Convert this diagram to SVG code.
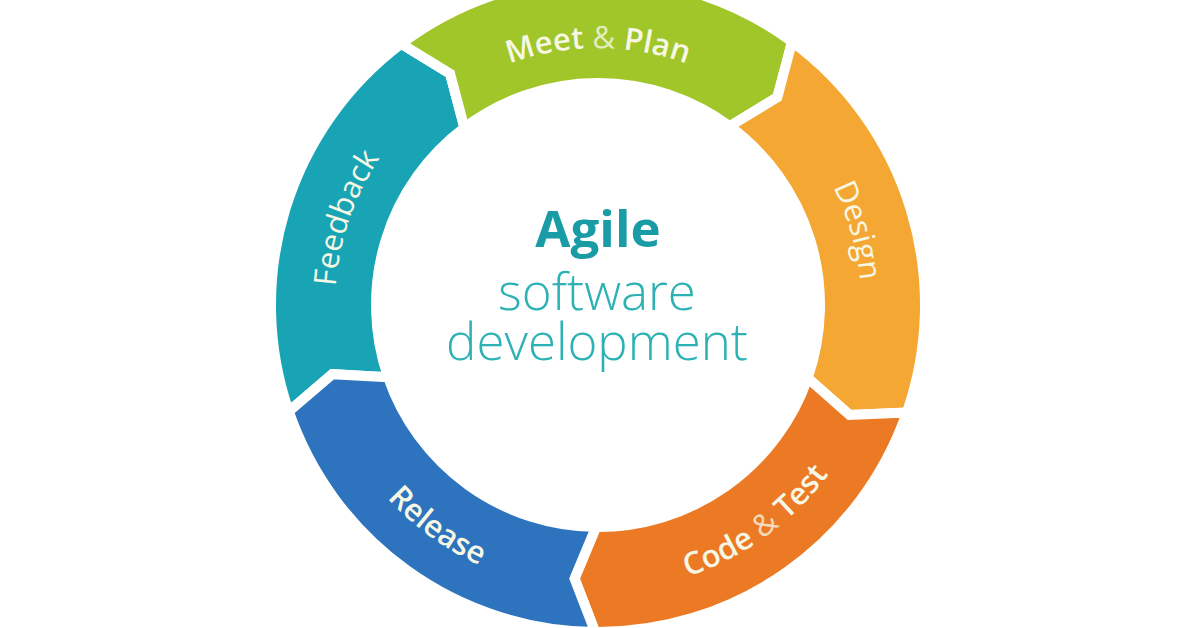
<svg xmlns="http://www.w3.org/2000/svg" xmlns:xlink="http://www.w3.org/1999/xlink" width="1196" height="628" viewBox="0 0 1196 628">
<style>
.seg{stroke:#ffffff;stroke-width:10;stroke-linejoin:miter}
.lbl{font-family:"Open Sans","Liberation Sans",sans-serif;font-size:31px;font-weight:600;fill:#f6f7e4}
.thin{font-weight:400;fill-opacity:0.8}
.ctr{font-family:"Open Sans","Liberation Sans",sans-serif;text-anchor:middle}
</style>
<defs>
<path id="pMeet" d="M 373.77 177.5 A 259 259 0 0 1 822.23 177.5"/>
<path id="pDesign" d="M 661.62 49.81 A 263 263 0 0 1 787.19 487.70"/>
<path id="pFeed" d="M 399.51 477.54 A 263 263 0 0 1 547.82 46.83"/>
<path id="pCode" d="M 481.67 566.28 A 286 286 0 0 0 882.43 275.10"/>
<path id="pRel" d="M 313.57 275.10 A 286 286 0 0 0 714.33 566.28"/>
</defs>
<rect x="0" y="0" width="1196" height="628" fill="#ffffff"/>
<g id="feedback">
<path class="seg" fill="#18a4b4" d="M 288.81 411.46 A 327 327 0 0 1 401.20 43.84 L 450.11 73.75 L 464.40 127.70 A 222 222 0 0 0 388.09 377.28 L 332.36 374.19 Z"/>
<text class="lbl" style="font-weight:400"><textPath xlink:href="#pFeed" href="#pFeed" startOffset="50%" text-anchor="middle">Feedback</textPath></text>
</g>
<g id="meet-plan">
<path class="seg" fill="#a0c62a" d="M 401.20 43.84 A 327 327 0 0 1 792.05 41.80 L 777.36 97.20 L 729.74 126.31 A 222 222 0 0 0 464.40 127.70 L 450.11 73.75 Z"/>
<text class="lbl"><textPath xlink:href="#pMeet" href="#pMeet" startOffset="50%" text-anchor="middle">Meet <tspan class="thin">&amp;</tspan> Plan</textPath></text>
</g>
<g id="design">
<path class="seg" fill="#f5a733" d="M 792.05 41.80 A 327 327 0 0 1 906.81 412.54 L 849.54 414.90 L 807.65 378.01 A 222 222 0 0 0 729.74 126.31 L 777.36 97.20 Z"/>
<text class="lbl" style="font-weight:400"><textPath xlink:href="#pDesign" href="#pDesign" startOffset="50%" text-anchor="middle">Design</textPath></text>
</g>
<g id="code-test">
<path class="seg" fill="#ec7a24" d="M 906.81 412.54 A 327 327 0 0 1 595.15 631.99 L 574.55 578.50 L 596.06 526.99 A 222 222 0 0 0 807.65 378.01 L 849.54 414.90 Z"/>
<text class="lbl"><textPath xlink:href="#pCode" href="#pCode" startOffset="50%" text-anchor="middle">Code <tspan class="thin">&amp;</tspan> Test</textPath></text>
</g>
<g id="release">
<path class="seg" fill="#2d73be" d="M 595.15 631.99 A 327 327 0 0 1 288.81 411.46 L 332.36 374.19 L 388.09 377.28 A 222 222 0 0 0 596.06 526.99 L 574.55 578.50 Z"/>
<text class="lbl"><textPath xlink:href="#pRel" href="#pRel" startOffset="50%" text-anchor="middle">Release</textPath></text>
</g>
<g id="center">
<text class="ctr" x="598" y="247" font-size="51" font-weight="700" fill="#1a9ca6">Agile</text>
<text class="ctr" x="597" y="310" font-size="51" font-weight="300" fill="#2cb2b4">software</text>
<text class="ctr" x="597" y="360" font-size="51" font-weight="300" fill="#2cb2b4">development</text>
</g>
</svg>
